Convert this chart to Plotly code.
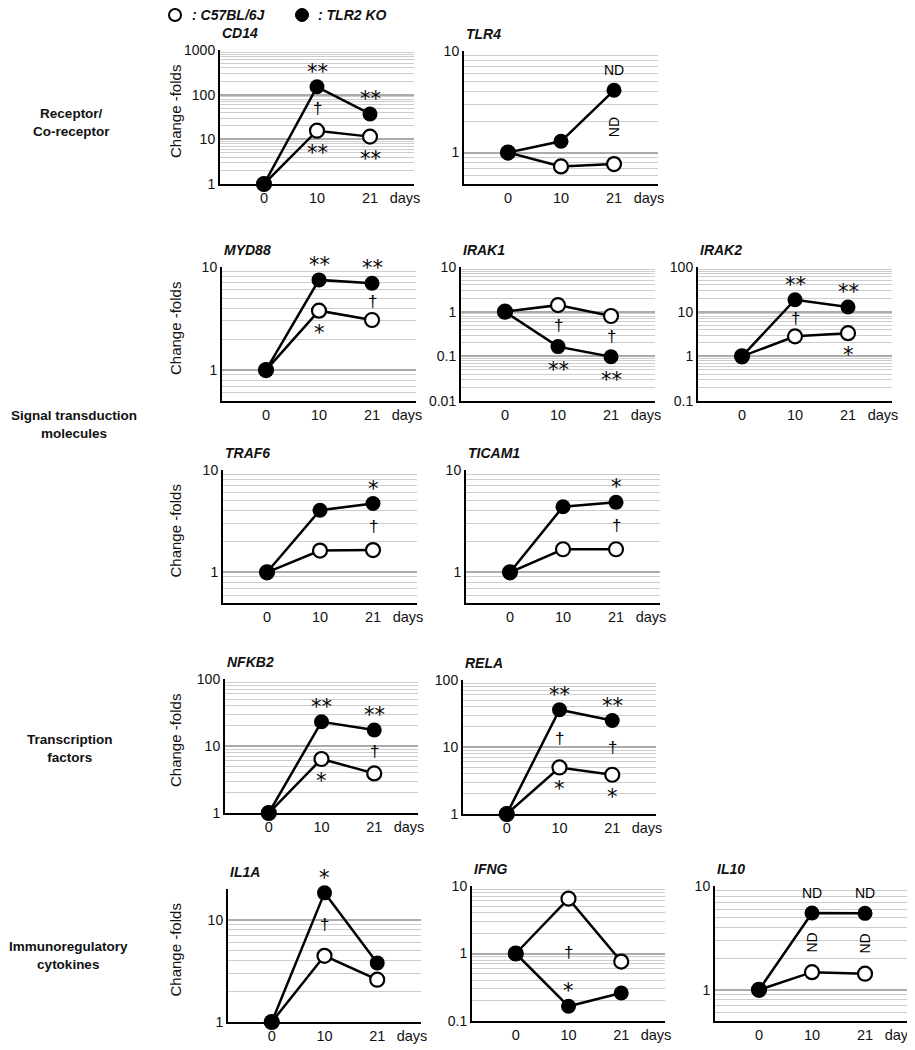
import numpy as np
import plotly.graph_objects as go

# ---------------- data ----------------
DAYS = ["0", "10", "21"]

CD14_WT = [1, 15.6, 11.5]
CD14_KO = [1, 150, 37]
TLR4_WT = [1, 0.73, 0.77]
TLR4_KO = [1, 1.29, 4.1]
MYD88_WT = [1, 3.77, 3.06]
MYD88_KO = [1, 7.5, 6.95]
IRAK1_WT = [1, 1.4, 0.8]
IRAK1_KO = [1, 0.165, 0.098]
IRAK2_WT = [1, 2.8, 3.3]
IRAK2_KO = [1, 18.5, 12.7]
TRAF6_WT = [1, 1.63, 1.65]
TRAF6_KO = [1, 4.04, 4.7]
TICAM1_WT = [1, 1.68, 1.68]
TICAM1_KO = [1, 4.38, 4.83]
NFKB2_WT = [1, 6.4, 3.9]
NFKB2_KO = [1, 23, 17.3]
RELA_WT = [1, 4.95, 3.85]
RELA_KO = [1, 36, 24.8]
IL1A_WT = [1, 4.46, 2.6]
IL1A_KO = [1, 18.5, 3.8]
IFNG_WT = [1, 6.5, 0.76]
IFNG_KO = [1, 0.165, 0.26]
IL10_WT = [1, 1.48, 1.43]
IL10_KO = [1, 5.5, 5.45]

# significance marks: (text, day index, where) where = ko+ / ko- / wt- / mid / midrot
CD14_SIG = [("**", 1, "ko+"), ("**", 2, "ko+"), ("†", 1, "mid"), ("**", 1, "wt-"), ("**", 2, "wt-")]
TLR4_SIG = [("ND", 2, "ko+"), ("ND", 2, "midrot")]
MYD88_SIG = [("**", 1, "ko+"), ("**", 2, "ko+"), ("*", 1, "wt-"), ("†", 2, "mid")]
IRAK1_SIG = [("†", 1, "mid"), ("†", 2, "mid"), ("**", 1, "ko-"), ("**", 2, "ko-")]
IRAK2_SIG = [("**", 1, "ko+"), ("**", 2, "ko+"), ("†", 1, "mid"), ("*", 2, "wt-")]
TRAF6_SIG = [("*", 2, "ko+"), ("†", 2, "mid")]
TICAM1_SIG = [("*", 2, "ko+"), ("†", 2, "mid")]
NFKB2_SIG = [("**", 1, "ko+"), ("**", 2, "ko+"), ("*", 1, "wt-"), ("†", 2, "mid")]
RELA_SIG = [("**", 1, "ko+"), ("**", 2, "ko+"), ("†", 1, "mid"), ("†", 2, "mid"),
            ("*", 1, "wt-"), ("*", 2, "wt-")]
IL1A_SIG = [("*", 1, "ko+"), ("†", 1, "mid")]
IFNG_SIG = [("†", 1, "mid"), ("*", 1, "ko+")]
IL10_SIG = [("ND", 1, "ko+"), ("ND", 2, "ko+"), ("ND", 1, "midrot"), ("ND", 2, "midrot")]

# group labels: text, centre x, centre y (px)
GROUPS = [("Receptor/<br>Co-receptor", 71, 123),
          ("Signal transduction<br>molecules", 74, 424),
          ("Transcription<br>factors", 70, 748),
          ("Immunoregulatory<br>cytokines", 68, 955)]

# panel layout: gene, wt, ko, marks, log10 y-range, box in px (left, right, top, bottom), y title
PANELS = [
    ("CD14", CD14_WT, CD14_KO, CD14_SIG, [0, 3], (220, 414, 50, 184), True),
    ("TLR4", TLR4_WT, TLR4_KO, TLR4_SIG, [-0.31, 1], (464, 658, 51, 184), False),
    ("MYD88", MYD88_WT, MYD88_KO, MYD88_SIG, [-0.3, 1], (222, 416, 267, 401), True),
    ("IRAK1", IRAK1_WT, IRAK1_KO, IRAK1_SIG, [-2, 1], (461, 655, 267, 401), False),
    ("IRAK2", IRAK2_WT, IRAK2_KO, IRAK2_SIG, [-1, 2], (698, 892, 267, 401), False),
    ("TRAF6", TRAF6_WT, TRAF6_KO, TRAF6_SIG, [-0.3, 1], (223, 417, 470, 603), True),
    ("TICAM1", TICAM1_WT, TICAM1_KO, TICAM1_SIG, [-0.3, 1], (466, 660, 470, 603), False),
    ("NFKB2", NFKB2_WT, NFKB2_KO, NFKB2_SIG, [0, 2], (225, 418, 679, 813), True),
    ("RELA", RELA_WT, RELA_KO, RELA_SIG, [0, 2], (463, 656, 680, 814), False),
    ("IL1A", IL1A_WT, IL1A_KO, IL1A_SIG, [0, 1.305], (228, 421, 889, 1022), True),
    ("IFNG", IFNG_WT, IFNG_KO, IFNG_SIG, [-1, 1], (472, 665, 886, 1021), False),
    ("IL10", IL10_WT, IL10_KO, IL10_SIG, [-0.3, 1], (715, 909, 886, 1021), False),
]

# the page puts the figure 8 px in from the top-left corner of the window
OFF = 8
W, H = 915 - OFF, 1050 - OFF
FONT = "Liberation Sans, Arial, sans-serif"
STAR_FONT = "DejaVu Sans, sans-serif"


def px(x):
    return (x - OFF) / W


def py(y):
    return 1 - (y - OFF) / H


def tick_label(v):
    return str(int(round(v))) if v >= 1 else f"{v:g}"


fig = go.Figure()
annotations = []
xs = list(range(len(DAYS)))

for i, (gene, wt, ko, marks, yr, box, ytitle) in enumerate(PANELS, start=1):
    left, right, top, bottom = box
    sfx = "" if i == 1 else str(i)
    xa, ya = f"x{sfx}", f"y{sfx}"
    lo, hi = yr
    decades = range(int(np.floor(lo)), int(np.ceil(hi)) + 1)
    major = [10.0 ** k for k in decades if lo - 1e-9 <= k <= hi + 1e-9]
    minor = [m * 10.0 ** k for k in decades for m in range(2, 10)
             if lo - 0.01 <= np.log10(m * 10.0 ** k) <= hi + 0.01]

    fig.layout[f"xaxis{sfx}"] = dict(
        domain=[px(left), px(right)], anchor=ya, range=[-0.83, 2.83], automargin=False,
        tickmode="array", tickvals=xs + [2.66], ticktext=DAYS + ["days"],
        ticklabeloverflow="allow",
        showgrid=False, zeroline=False, showline=True, linecolor="black", linewidth=2,
        ticks="", tickfont=dict(family=FONT, size=14.5, color="#111"),
    )
    fig.layout[f"yaxis{sfx}"] = dict(
        domain=[py(bottom), py(top)], anchor=xa, type="log", range=[lo, hi],
        automargin=False,
        tickmode="array", tickvals=major, ticktext=[tick_label(v) for v in major],
        showgrid=True, gridcolor="#ababab", gridwidth=2,
        minor=dict(tickmode="array", tickvals=minor, showgrid=True,
                   gridcolor="#cdcdcd", gridwidth=1, ticks=""),
        zeroline=False, showline=True, linecolor="black", linewidth=2,
        ticks="", tickfont=dict(family=FONT, size=14, color="#111"),
    )

    fig.add_trace(go.Scatter(
        x=xs, y=wt, xaxis=xa, yaxis=ya, mode="lines+markers", cliponaxis=False,
        line=dict(color="black", width=2.5),
        marker=dict(size=14, color="white", line=dict(color="black", width=2.2)),
        showlegend=False, hoverinfo="skip",
    ))
    fig.add_trace(go.Scatter(
        x=xs, y=ko, xaxis=xa, yaxis=ya, mode="lines+markers", cliponaxis=False,
        line=dict(color="black", width=2.5),
        marker=dict(size=15, color="black"),
        showlegend=False, hoverinfo="skip",
    ))

    # gene title
    annotations.append(dict(
        text=f"<b><i>{gene}</i></b>", xref=f"{xa} domain", yref=f"{ya} domain",
        x=0, y=1, xanchor="left", yanchor="middle", yshift=17, showarrow=False,
        font=dict(family=FONT, size=14, color="#111"),
    ))
    if ytitle:
        annotations.append(dict(
            text="Change -folds", xref="paper", yref="paper",
            x=px(175), y=py((top + bottom) / 2 - 5), textangle=-90,
            xanchor="center", yanchor="middle",
            showarrow=False, font=dict(family=FONT, size=15, color="#111"),
        ))

    for text, d, where in marks:
        lw, lk = np.log10(wt[d]), np.log10(ko[d])
        rot = 0
        if where == "ko+":
            yv, shift = lk, 20
        elif where == "ko-":
            yv, shift = lk, -18
        elif where == "wt-":
            yv, shift = lw, -17
        else:
            yv, shift = (lw + lk) / 2, 0
            if where == "midrot":
                rot = -90
        fam = FONT
        if text.startswith("*"):
            size, fam, shift = 21, STAR_FONT, shift - 5
        elif text == "†":
            size = 17
        else:
            size = 14
        annotations.append(dict(
            text=text, xref=xa, yref=ya, x=d, y=yv, yshift=shift, textangle=rot,
            xanchor="center", yanchor="middle",
            showarrow=False, font=dict(family=fam, size=size, color="black"),
        ))

# group labels on the left
for label, xc, yc in GROUPS:
    annotations.append(dict(
        text=f"<b>{label}</b>", xref="paper", yref="paper", x=px(xc), y=py(yc),
        xanchor="center", yanchor="middle", showarrow=False, align="center",
        font=dict(family=FONT, size=13.5, color="#111"),
    ))

# legend (kept just inside the top edge of the figure)
LEG_Y = 15
shapes = [
    dict(type="circle", xref="paper", yref="paper", x0=px(169), x1=px(181),
         y0=py(LEG_Y + 6), y1=py(LEG_Y - 6), line=dict(color="black", width=2),
         fillcolor="white"),
    dict(type="circle", xref="paper", yref="paper", x0=px(295.5), x1=px(308.5),
         y0=py(LEG_Y + 6.5), y1=py(LEG_Y - 6.5), line=dict(color="black", width=1),
         fillcolor="black"),
]
annotations.append(dict(text="<b><i>: C57BL/6J</i></b>", xref="paper", yref="paper",
                        x=px(190), y=py(LEG_Y), xanchor="left", yanchor="middle",
                        showarrow=False, font=dict(family=FONT, size=14, color="#111")))
annotations.append(dict(text="<b><i>: TLR2 KO</i></b>", xref="paper", yref="paper",
                        x=px(316), y=py(LEG_Y), xanchor="left", yanchor="middle",
                        showarrow=False, font=dict(family=FONT, size=14, color="#111")))

fig.update_layout(
    width=W, height=H, margin=dict(l=0, r=0, t=0, b=0, autoexpand=False),
    paper_bgcolor="white", plot_bgcolor="white", template="none",
    annotations=annotations, shapes=shapes, showlegend=False,
    font=dict(family=FONT),
)
fig.write_html("out.html")
